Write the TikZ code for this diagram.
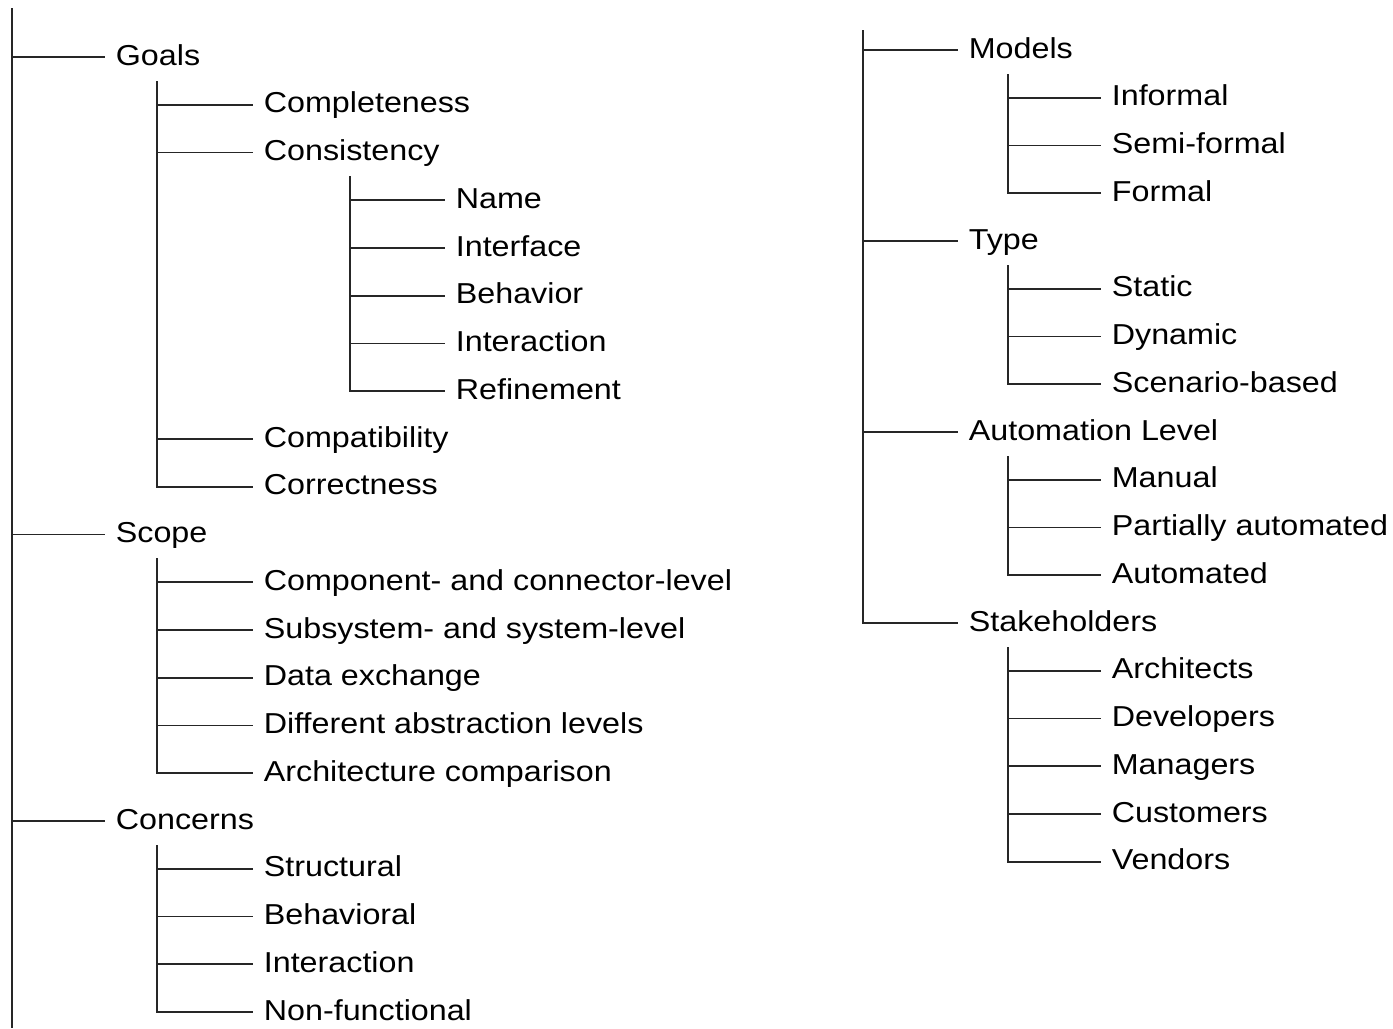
\documentclass[tikz,border=0pt]{standalone}
\usepackage{fontspec}
\setmainfont{Liberation Sans}[FakeStretch=1.12]
\begin{document}
\begin{tikzpicture}[x=0.02cm, y=-0.02cm,
    item/.style={anchor=west, inner ysep=0pt, inner xsep=0.21cm,
        text height=0.4cm, text depth=0.08cm,
        font=\fontsize{16.4}{19}\selectfont, text=black},
    branch/.style={line width=1.1pt, black!85}]
    \useasboundingbox (0,0) rectangle (1393,1028);

    % Left tree: trunk
    \coordinate (ltop) at (12,8);
    \coordinate (lbot) at (12,1028);
    \draw[branch] (ltop) -- (lbot);

    % Goals branch
    \node[item] (goals)   at (105,57)     {Goals};
    \node[item] (compl)   at (253,104.75) {Completeness};
    \node[item] (consist) at (253,152.5)  {Consistency};
    \node[item] (name)    at (445,200.25) {Name};
    \node[item] (iface)   at (445,248)    {Interface};
    \node[item] (behav)   at (445,295.75) {Behavior};
    \node[item] (inter)   at (445,343.5)  {Interaction};
    \node[item] (refine)  at (445,391.25) {Refinement};
    \node[item] (compat)  at (253,439)    {Compatibility};
    \node[item] (correct) at (253,486.75) {Correctness};

    % Scope branch
    \node[item] (scope)   at (105,534.5)  {Scope};
    \node[item] (comp)    at (253,582.25) {Component- and connector-level};
    \node[item] (subsys)  at (253,630)    {Subsystem- and system-level};
    \node[item] (data)    at (253,677.75) {Data exchange};
    \node[item] (abstr)   at (253,725.5)  {Different abstraction levels};
    \node[item] (arch)    at (253,773.25) {Architecture comparison};

    % Concerns branch
    \node[item] (concerns) at (105,821)   {Concerns};
    \node[item] (struct)  at (253,868.75) {Structural};
    \node[item] (behavl)  at (253,916.5)  {Behavioral};
    \node[item] (interc)  at (253,964.25) {Interaction};
    \node[item] (nonfunc) at (253,1012)   {Non-functional};

    % Left tree: connectors
    \foreach \n in {goals,scope,concerns} {
        \draw[branch] (\n.west -| ltop) -- (\n.west);
    }
    \coordinate (gtop) at (157,81);
    \foreach \n in {compl,consist,compat} {
        \draw[branch] (\n.west -| gtop) -- (\n.west);
    }
    \draw[branch] (gtop) |- (correct.west);
    \coordinate (ctop) at (350,176);
    \foreach \n in {name,iface,behav,inter} {
        \draw[branch] (\n.west -| ctop) -- (\n.west);
    }
    \draw[branch] (ctop) |- (refine.west);
    \coordinate (stop) at (157,558);
    \foreach \n in {comp,subsys,data,abstr} {
        \draw[branch] (\n.west -| stop) -- (\n.west);
    }
    \draw[branch] (stop) |- (arch.west);
    \coordinate (ntop) at (157,845);
    \foreach \n in {struct,behavl,interc} {
        \draw[branch] (\n.west -| ntop) -- (\n.west);
    }
    \draw[branch] (ntop) |- (nonfunc.west);

    % Right tree
    \node[item] (models)  at (958,50)     {Models};
    \node[item] (inform)  at (1101,97.75) {Informal};
    \node[item] (semi)    at (1101,145.5) {Semi-formal};
    \node[item] (formal)  at (1101,193.25) {Formal};
    \node[item] (type)    at (958,241)    {Type};
    \node[item] (static)  at (1101,288.75) {Static};
    \node[item] (dynamic) at (1101,336.5) {Dynamic};
    \node[item] (scen)    at (1101,384.25) {Scenario-based};
    \node[item] (autom)   at (958,432)    {Automation Level};
    \node[item] (manual)  at (1101,479.75) {Manual};
    \node[item] (partial) at (1101,527.5) {Partially automated};
    \node[item] (auto)    at (1101,575.25) {Automated};
    \node[item] (stake)   at (958,623)    {Stakeholders};
    \node[item] (archs)   at (1101,670.75) {Architects};
    \node[item] (devs)    at (1101,718.5) {Developers};
    \node[item] (mgrs)    at (1101,766.25) {Managers};
    \node[item] (cust)    at (1101,814)   {Customers};
    \node[item] (vend)    at (1101,861.75) {Vendors};

    % Right tree: connectors
    \coordinate (rtop) at (863,30);
    \foreach \n in {models,type,autom} {
        \draw[branch] (\n.west -| rtop) -- (\n.west);
    }
    \draw[branch] (rtop) |- (stake.west);
    \coordinate (mtop) at (1008,74);
    \foreach \n in {inform,semi} {
        \draw[branch] (\n.west -| mtop) -- (\n.west);
    }
    \draw[branch] (mtop) |- (formal.west);
    \coordinate (ttop) at (1008,265);
    \foreach \n in {static,dynamic} {
        \draw[branch] (\n.west -| ttop) -- (\n.west);
    }
    \draw[branch] (ttop) |- (scen.west);
    \coordinate (atop) at (1008,456);
    \foreach \n in {manual,partial} {
        \draw[branch] (\n.west -| atop) -- (\n.west);
    }
    \draw[branch] (atop) |- (auto.west);
    \coordinate (ktop) at (1008,647);
    \foreach \n in {archs,devs,mgrs,cust} {
        \draw[branch] (\n.west -| ktop) -- (\n.west);
    }
    \draw[branch] (ktop) |- (vend.west);
\end{tikzpicture}
\end{document}
